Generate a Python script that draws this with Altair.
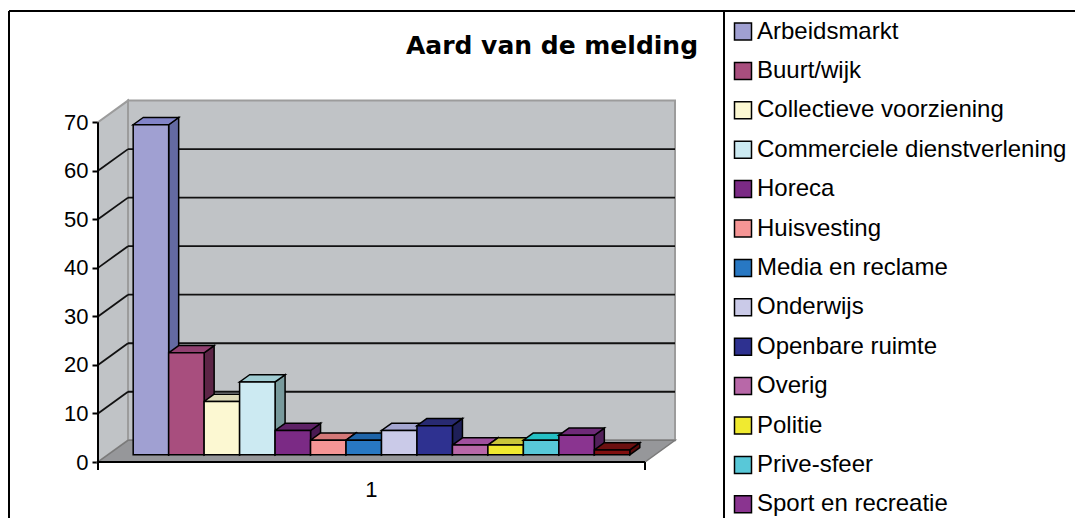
import altair as alt
import pandas as pd

# ---------------- data ----------------
title_text = "Aard van de melding"
categories = ["Arbeidsmarkt", "Buurt/wijk", "Collectieve voorziening",
              "Commerciele dienstverlening", "Horeca", "Huisvesting",
              "Media en reclame", "Onderwijs", "Openbare ruimte", "Overig",
              "Politie", "Prive-sfeer", "Sport en recreatie", "Vervoer"]
values = [68, 21, 11, 15, 5, 3, 3, 5, 6, 2, 2, 3, 4, 1]
legend_shown = categories[:13]
front_colors = ["#A0A0D2", "#A84E7E", "#FCF8D2", "#CCEAF2", "#7B2A85", "#F59595",
                "#2878C3", "#CACAE8", "#2E3190", "#B868A8", "#F0EA30", "#58C8D8",
                "#8A3490", "#800F0F"]
side_colors = ["#646AA2", "#5C2546", "#A8A48A", "#789A9C", "#4A1A52", "#A86060",
               "#1A4C80", "#8A8AA8", "#1E1F58", "#7A4070", "#A8A420", "#3A8A96",
               "#52205A", "#5A0A0A"]
top_colors = ["#8284C8", "#904070", "#DEDAB8", "#A0CCD2", "#5E2266", "#D47878",
              "#1E64A8", "#A4A6D0", "#282A72", "#A0509E", "#CAC63A", "#24C0C4",
              "#6E2A78", "#6C1010"]
y_ticks = [0, 10, 20, 30, 40, 50, 60, 70]
x_label = "1"

# ---------------- geometry (pseudo 3D, in data units) ----------------
N = len(categories)
GAP = 0.71                    # empty space on each side of the bar row (in bar widths)
FLOOR_W = N + 2 * GAP
DX = 0.846                    # depth shift, x (bar widths)
DY = 4.47                     # depth shift, y (value units)
YTOP = max(y_ticks)
XMAX = FLOOR_W + DX
YMAX = 75
W, H = 577, 364

xs = alt.Scale(domain=[0, XMAX], nice=False, zero=False)
ys = alt.Scale(domain=[0, YMAX], nice=False, zero=False)
yaxis = alt.Axis(values=y_ticks, tickSize=6, tickWidth=2, tickColor="black",
                 labelFont="Liberation Sans", labelFontSize=22, labelColor="black",
                 labelPadding=4, domain=False, grid=False, title=None)


def X(f="x"):
    return alt.X(f"{f}:Q", scale=xs, axis=None)


def Y(f="y"):
    return alt.Y(f"{f}:Q", scale=ys, axis=yaxis)


WALL = "#C0C3C6"
EDGE = "#9C9C9C"

left_wall = alt.Chart(pd.DataFrame({"x": [0, DX], "y": [0, DY], "y2": [YTOP, YTOP + DY]})).mark_area(
    fill=WALL, stroke=EDGE, strokeWidth=2).encode(x=X(), y=Y(), y2="y2:Q")

back_wall = alt.Chart(pd.DataFrame({"x": [DX], "x2": [DX + FLOOR_W], "y": [DY], "y2": [YTOP + DY]})).mark_rect(
    fill=WALL, stroke=EDGE, strokeWidth=2).encode(x=X(), x2="x2:Q", y=Y(), y2="y2:Q")

floor = alt.Chart(pd.DataFrame({"y": [0, DY], "x": [0, DX], "x2": [FLOOR_W, FLOOR_W + DX]})).mark_area(
    orient="horizontal", fill="#96979A", stroke="#7A7A7A", strokeWidth=1.5).encode(
    y=Y(), x=X(), x2="x2:Q")

grid_vals = y_ticks[1:-1]
back_grid = alt.Chart(pd.DataFrame({"x": DX, "x2": DX + FLOOR_W,
                                    "y": [v + DY for v in grid_vals]})).mark_rule(
    color="#111111", strokeWidth=1.8).encode(x=X(), x2="x2:Q", y=Y())
left_grid = alt.Chart(pd.DataFrame({"x": 0.0, "x2": DX, "y": grid_vals,
                                    "y2": [v + DY for v in grid_vals]})).mark_rule(
    color="#111111", strokeWidth=1.8).encode(x=X(), x2="x2:Q", y=Y(), y2="y2:Q")

front_axis = alt.Chart(pd.DataFrame({"x": [0.0], "y": [0], "y2": [YTOP]})).mark_rule(
    color="black", strokeWidth=2).encode(x=X(), y=Y(), y2="y2:Q")
floor_edge = alt.Chart(pd.DataFrame({"x": [0.0], "x2": [FLOOR_W], "y": [0]})).mark_rule(
    color="black", strokeWidth=2).encode(x=X(), x2="x2:Q", y=Y())
x_ticks = alt.Chart(pd.DataFrame({"x": [0.0, FLOOR_W], "y": [0, 0]})).mark_rule(
    color="black", strokeWidth=2).encode(x=X(), y=Y(), y2=alt.value(H + 8))
x_text = alt.Chart(pd.DataFrame({"x": [FLOOR_W / 2], "y": [0], "t": [x_label]})).mark_text(
    font="Liberation Sans", fontSize=22, color="black", align="center",
    baseline="alphabetic", dy=35).encode(x=X(), y=Y(), text="t:N")

# ---------------- bars ----------------
fx, fy = DX / 3, DY / 3
bx, by = 2 * DX / 3, 2 * DY / 3
fronts, sides, tops = [], [], []
for i, (c, v) in enumerate(zip(categories, values)):
    x0 = GAP + i
    fronts.append({"cat": c, "x": x0 + fx, "x2": x0 + 1 + fx, "y": fy, "y2": v + fy})
    sides.append({"cat": c, "col": side_colors[i], "x": x0 + 1 + fx, "y": fy, "y2": v + fy})
    sides.append({"cat": c, "col": side_colors[i], "x": x0 + 1 + bx, "y": by, "y2": v + by})
    tops.append({"cat": c, "col": top_colors[i], "y": v + fy, "x": x0 + fx, "x2": x0 + 1 + fx})
    tops.append({"cat": c, "col": top_colors[i], "y": v + by, "x": x0 + bx, "x2": x0 + 1 + bx})

side_layer = alt.Chart(pd.DataFrame(sides)).mark_area(stroke="black", strokeWidth=1.5).encode(
    x=X(), y=Y(), y2="y2:Q", detail="cat:N", fill=alt.Fill("col:N", scale=None, legend=None))
top_layer = alt.Chart(pd.DataFrame(tops)).mark_area(orient="horizontal", stroke="black",
                                                     strokeWidth=1.5).encode(
    y=Y(), x=X(), x2="x2:Q", detail="cat:N", fill=alt.Fill("col:N", scale=None, legend=None))
front_layer = alt.Chart(pd.DataFrame(fronts)).mark_rect(stroke="black", strokeWidth=1.5).encode(
    x=X(), x2="x2:Q", y=Y(), y2="y2:Q",
    color=alt.Color("cat:N", scale=alt.Scale(domain=categories, range=front_colors),
                    legend=alt.Legend(values=legend_shown, orient="none", legendX=633,
                                      legendY=-78.5, title=None, symbolType="square",
                                      symbolSize=289, symbolStrokeColor="black",
                                      symbolStrokeWidth=1.5, labelFont="Liberation Sans",
                                      labelFontSize=24, labelColor="black", labelLimit=500,
                                      rowPadding=15.4, labelOffset=2, padding=0)))

# ---------------- title and frame ----------------
one = pd.DataFrame({"t": [title_text]})
title_layer = alt.Chart(one).mark_text(font="DejaVu Sans", fontWeight="bold", fontSize=25,
                                       color="black", align="center", baseline="alphabetic").encode(
    x=alt.value(454), y=alt.value(-44.5), text="t:N")
frame_left = alt.Chart(one).mark_rule(color="black", strokeWidth=2).encode(
    x=alt.value(-89), y=alt.value(-87), y2=alt.value(H + 200))
frame_top = alt.Chart(one).mark_rule(color="black", strokeWidth=2).encode(
    x=alt.value(-89), x2=alt.value(1100), y=alt.value(-87))
legend_line = alt.Chart(one).mark_rule(color="black", strokeWidth=2).encode(
    x=alt.value(626), y=alt.value(-87), y2=alt.value(H + 200))

chart = alt.layer(
    left_wall, back_wall, floor, back_grid, left_grid, front_axis, floor_edge, x_ticks,
    x_text, side_layer, top_layer, front_layer, title_layer, frame_left, frame_top, legend_line
).properties(
    width=W, height=H,
    autosize=alt.AutoSizeParams(type="none"),
    padding={"left": 90, "top": 90, "right": 400, "bottom": 56},
    background="white",
).configure_view(stroke=None)

chart.save("out.html", embed_options={"renderer": "svg", "actions": False})
